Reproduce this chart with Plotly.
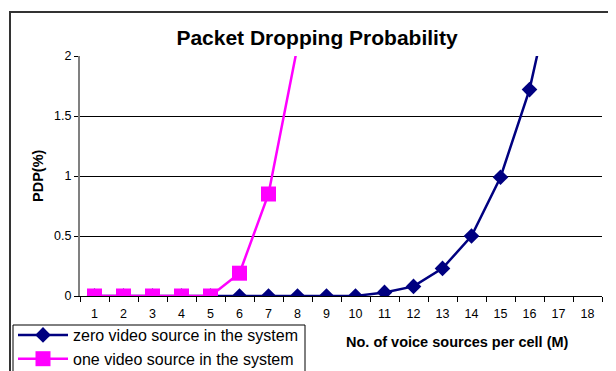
import plotly.graph_objects as go

categories = [str(i) for i in range(1, 19)]
zero_video_x = [str(i) for i in range(1, 18)]
zero_video = [0, 0, 0, 0, 0, 0, 0, 0, 0, 0, 0.03, 0.08, 0.23, 0.50, 0.99, 1.72, 2.8]
one_video_x = [str(i) for i in range(1, 9)]
one_video = [0, 0, 0, 0, 0, 0.19, 0.85, 2.08]
y_ticks = [0, 0.5, 1, 1.5, 2]
y_tick_labels = ["0", "0.5", "1", "1.5", "2"]

FONT = "Arial, Liberation Sans, sans-serif"
# page body has an 8px margin; figure is sized/placed to compensate
W, H = 608, 363

fig = go.Figure()
fig.add_trace(go.Scatter(
    x=zero_video_x, y=zero_video, mode="lines+markers",
    name="zero video source in the system",
    line=dict(color="#000080", width=2.5),
    marker=dict(symbol="diamond", size=12, color="#000080"),
))
fig.add_trace(go.Scatter(
    x=one_video_x, y=one_video, mode="lines+markers",
    name="one video source in the system",
    line=dict(color="#FF00FF", width=2.5),
    marker=dict(symbol="square", size=15, color="#FF00FF"),
))

fig.update_layout(
    width=W, height=H,
    margin=dict(l=72, r=14, t=48, b=75, autoexpand=False),
    paper_bgcolor="white", plot_bgcolor="white",
    font=dict(family=FONT, color="black", size=12),
    showlegend=True,
    legend=dict(
        x=(13 - 80) / 522, y=(296 - 318) / 240, xanchor="left", yanchor="top",
        borderwidth=0, bgcolor="rgba(0,0,0,0)",
        font=dict(size=16, family=FONT, color="black"),
        tracegroupgap=0, itemwidth=50,
    ),
    title=dict(text="<b>Packet Dropping Probability</b>", x=(317 - 80) / 522, xref="paper",
               xanchor="center", y=1 - 30 / H, yanchor="middle",
               font=dict(size=21, family=FONT, color="black")),
)

fig.update_xaxes(
    type="category", categoryorder="array", categoryarray=categories,
    range=[-0.5, 17.5], tickson="boundaries", ticks="outside", ticklen=5,
    tickcolor="black", showline=True, linecolor="black", linewidth=1,
    showgrid=False, zeroline=False, tickfont=dict(size=12.5, family=FONT),
    ticklabelstandoff=6,
)
fig.update_yaxes(
    range=[0, 2], tickvals=y_ticks, ticktext=y_tick_labels,
    ticks="outside", ticklen=4, tickcolor="black",
    showline=True, linecolor="#808080", linewidth=2,
    showgrid=True, gridcolor="black", gridwidth=1, zeroline=False,
    tickfont=dict(size=12.5, family=FONT),
)

fig.add_annotation(text="<b>PDP(%)</b>", xref="paper", yref="paper",
                   x=(38 - 80) / 522, y=(296 - 176) / 240, textangle=-90,
                   showarrow=False, font=dict(size=14.5, family=FONT, color="black"),
                   xanchor="center", yanchor="middle")
fig.add_annotation(text="<b>No. of voice sources per cell (M)</b>", xref="paper", yref="paper",
                   x=(457 - 80) / 522, y=(296 - 342) / 240,
                   showarrow=False, font=dict(size=14.5, family=FONT, color="black"),
                   xanchor="center", yanchor="middle")

# chart-area border (extends past the bottom/right of the view)
fig.add_shape(type="rect", xref="paper", yref="paper",
              x0=(10 - 80) / 522, x1=1.2, y0=-0.6, y1=(296 - 12) / 240,
              line=dict(color="#333333", width=2), fillcolor="rgba(0,0,0,0)", layer="below")
# legend box border
fig.add_shape(type="rect", xref="paper", yref="paper",
              x0=(13 - 80) / 522, x1=(305 - 80) / 522, y0=-0.6, y1=(296 - 325) / 240,
              line=dict(color="black", width=1), fillcolor="white", layer="below")

fig.write_html("out.html")
